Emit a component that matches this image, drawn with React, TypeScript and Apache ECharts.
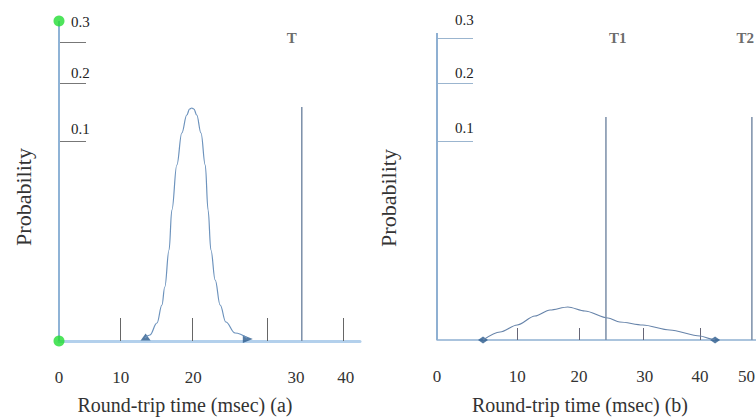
import React, { useEffect, useRef } from "react";
import * as echarts from "echarts";

// ---------- data (axis units) ----------
// Panel (a)
const leftCurve: number[][] = [
  [12.1, 0.003], [12.8, 0.006], [13.8, 0.018], [14.5, 0.036], [14.9, 0.054],
  [15.5, 0.091], [15.9, 0.131], [16.6, 0.176], [17.3, 0.208], [18.0, 0.226],
  [18.4, 0.232], [18.7, 0.233], [19.0, 0.232], [19.4, 0.226], [20.0, 0.208],
  [20.6, 0.176], [21.0, 0.131], [21.4, 0.091], [22.0, 0.061], [22.7, 0.036],
  [23.5, 0.019], [24.8, 0.008], [26.5, 0.003],
];
const leftStart = [12.2, 0.004];
const leftEnd = [26.6, 0.002];
const leftT = 34.2;
const leftTHeight = 0.234;
const leftTLabel = [32.8, 0.303];
const leftAxisTop = 0.32;
const leftXTicks = [8.6, 18.7, 29.4, 40.0];
const leftXLabelPos = [0, 8.7, 18.9, 33.4, 40.4];
const leftXLabels = ["0", "10", "20", "30", "40"];
const leftYTicks = [0.2, 0.258, 0.299];
const leftYLabelPos = [0.212, 0.268, 0.319];

// Panel (b)
const rightCurve: number[][] = [
  [7.0, 0.0], [9.6, 0.008], [12.2, 0.015], [14.9, 0.024], [17.2, 0.03],
  [19.9, 0.033], [22.5, 0.029], [26.0, 0.022], [27.8, 0.018], [31.3, 0.015],
  [35.4, 0.01], [40.0, 0.004], [41.8, 0.001], [42.3, 0.0],
];
const rightStart = [7.0, 0.0];
const rightEnd = [42.3, 0.0];
const rightT1 = 25.7;
const rightT2 = 47.9;
const rightTHeight = 0.223;
const rightT1Label = [27.5, 0.302];
const rightT2Label = [46.9, 0.302];
const rightAxisTop = 0.307;
const rightXTicks = [12.2, 21.6, 31.3, 40.0];
const rightXLabelPos = [0, 12.2, 21.6, 31.6, 40.0, 47.1];
const rightXLabels = ["0", "10", "20", "30", "40", "50"];
const rightYTicks = [0.199, 0.257, 0.302];
const rightYLabelPos = [0.212, 0.267, 0.32];

const yLabels = ["0.1", "0.2", "0.3"];
const yTitle = "Probability";
const xTitleA = "Round-trip time (msec) (a)";
const xTitleB = "Round-trip time (msec) (b)";

const FONT = "'Liberation Serif', 'DejaVu Serif', serif";

function lookup(pos: number[], labels: string[]) {
  return (v: number) => {
    let best = 0;
    let d = Infinity;
    pos.forEach((p, i) => {
      const dd = Math.abs(p - v);
      if (dd < d) {
        d = dd;
        best = i;
      }
    });
    return labels[best];
  };
}

function xAxisCfg(grid: number, max: number, ticks: number[], labPos: number[], labs: string[], tickLen: number, tickColor: string, lineColor: string, lineWidth: number) {
  return {
    type: "value",
    gridIndex: grid,
    min: 0,
    max,
    splitLine: { show: false },
    axisLine: { show: true, lineStyle: { color: lineColor, width: lineWidth } },
    axisTick: {
      show: true,
      inside: true,
      length: tickLen,
      customValues: ticks,
      lineStyle: { color: tickColor, width: 1 },
    },
    axisLabel: {
      show: true,
      customValues: labPos,
      formatter: lookup(labPos, labs),
      margin: 28,
      fontFamily: FONT,
      fontSize: 17,
      color: "#333",
      hideOverlap: false,
    },
  };
}

function yAxisCfg(grid: number, ticks: number[], labPos: number[], tickLen: number, tickColor: string, margin: number) {
  return {
    type: "value",
    gridIndex: grid,
    min: 0,
    max: 0.325,
    splitLine: { show: false },
    axisLine: { show: false },
    axisTick: {
      show: true,
      inside: true,
      length: tickLen,
      customValues: ticks,
      lineStyle: { color: tickColor, width: 1 },
    },
    axisLabel: {
      show: true,
      inside: true,
      customValues: labPos,
      formatter: lookup(labPos, yLabels),
      margin,
      fontFamily: FONT,
      fontSize: 15,
      color: "#222",
    },
  };
}

function tLabel(axis: number, pos: number[], text: string) {
  return {
    type: "scatter",
    xAxisIndex: axis,
    yAxisIndex: axis,
    symbolSize: 1,
    itemStyle: { color: "rgba(0,0,0,0)" },
    data: [pos],
    label: {
      show: true,
      position: "inside",
      formatter: text,
      fontFamily: FONT,
      fontSize: 15,
      fontWeight: "bold",
      color: "#444",
    },
    z: 5,
  };
}

export default function App() {
  const ref = useRef<HTMLDivElement>(null);

  useEffect(() => {
    if (!ref.current) return;
    const chart = echarts.init(ref.current, null, { renderer: "svg" });
    const option: any = {
      animation: false,
      backgroundColor: "#ffffff",
      grid: [
        { left: 59, top: 16, width: 301, height: 325, containLabel: false, outerBoundsMode: "none" },
        { left: 437, top: 15, width: 330, height: 325, containLabel: false, outerBoundsMode: "none" },
      ],
      xAxis: [
        xAxisCfg(0, 42.4, leftXTicks, leftXLabelPos, leftXLabels, 23, "#666", "#b3d0ec", 3),
        xAxisCfg(1, 50.2, rightXTicks, rightXLabelPos, rightXLabels, 12, "#667", "#8fb0d2", 1.5),
      ],
      yAxis: [
        yAxisCfg(0, leftYTicks, leftYLabelPos, 27, "#777", 12),
        yAxisCfg(1, rightYTicks, rightYLabelPos, 36, "#9bb5cf", 18),
      ],
      series: [
        // ---- panel (a)
        {
          type: "line",
          xAxisIndex: 0,
          yAxisIndex: 0,
          data: [[0, 0], [0, leftAxisTop]],
          symbol: "none",
          lineStyle: { color: "#8fb3d6", width: 2 },
        },
        {
          type: "line",
          xAxisIndex: 0,
          yAxisIndex: 0,
          data: leftCurve,
          smooth: 0.4,
          smoothMonotone: "x",
          symbol: "none",
          lineStyle: { color: "#6d93bd", width: 1.2 },
        },
        {
          type: "line",
          xAxisIndex: 0,
          yAxisIndex: 0,
          data: [[leftT, 0], [leftT, leftTHeight]],
          symbol: "none",
          lineStyle: { color: "#7a8ea8", width: 1.5 },
        },
        {
          type: "scatter",
          xAxisIndex: 0,
          yAxisIndex: 0,
          data: [[0, 0], [0, leftAxisTop]],
          symbolSize: 11,
          itemStyle: { color: "#22dd33" },
          z: 6,
        },
        {
          type: "scatter",
          xAxisIndex: 0,
          yAxisIndex: 0,
          data: [leftStart],
          symbol: "triangle",
          symbolSize: [10, 7],
          itemStyle: { color: "#2a5a8c" },
        },
        {
          type: "scatter",
          xAxisIndex: 0,
          yAxisIndex: 0,
          data: [leftEnd],
          symbol: "triangle",
          symbolRotate: -90,
          symbolSize: [8, 10],
          itemStyle: { color: "#2a5a8c" },
        },
        tLabel(0, leftTLabel, "T"),
        // ---- panel (b)
        {
          type: "line",
          xAxisIndex: 1,
          yAxisIndex: 1,
          data: [[0, 0], [0, rightAxisTop]],
          symbol: "none",
          lineStyle: { color: "#8fb0d2", width: 2 },
        },
        {
          type: "line",
          xAxisIndex: 1,
          yAxisIndex: 1,
          data: rightCurve,
          smooth: 0.3,
          smoothMonotone: "x",
          symbol: "none",
          lineStyle: { color: "#6784aa", width: 1.2 },
        },
        {
          type: "line",
          xAxisIndex: 1,
          yAxisIndex: 1,
          data: [[rightT1, 0], [rightT1, rightTHeight]],
          symbol: "none",
          lineStyle: { color: "#7a8ea8", width: 1.5 },
        },
        {
          type: "line",
          xAxisIndex: 1,
          yAxisIndex: 1,
          data: [[rightT2, 0], [rightT2, rightTHeight]],
          symbol: "none",
          lineStyle: { color: "#7a8ea8", width: 1.5 },
        },
        {
          type: "scatter",
          xAxisIndex: 1,
          yAxisIndex: 1,
          data: [rightStart, rightEnd],
          symbol: "diamond",
          symbolSize: [10, 7],
          itemStyle: { color: "#2a5a8c" },
        },
        tLabel(1, rightT1Label, "T1"),
        tLabel(1, rightT2Label, "T2"),
      ],
      graphic: [
        {
          type: "text",
          x: 23,
          y: 197,
          rotation: Math.PI / 2,
          style: {
            text: yTitle,
            fontFamily: FONT,
            fontSize: 22,
            fill: "#333",
            textAlign: "center",
            textVerticalAlign: "middle",
          },
        },
        {
          type: "text",
          x: 388,
          y: 198,
          rotation: Math.PI / 2,
          style: {
            text: yTitle,
            fontFamily: FONT,
            fontSize: 22,
            fill: "#333",
            textAlign: "center",
            textVerticalAlign: "middle",
          },
        },
        {
          type: "text",
          x: 185,
          y: 405,
          style: {
            text: xTitleA,
            fontFamily: FONT,
            fontSize: 20,
            fill: "#333",
            textAlign: "center",
            textVerticalAlign: "middle",
          },
        },
        {
          type: "text",
          x: 580,
          y: 405,
          style: {
            text: xTitleB,
            fontFamily: FONT,
            fontSize: 20,
            fill: "#333",
            textAlign: "center",
            textVerticalAlign: "middle",
          },
        },
      ],
    };
    chart.setOption(option);
    return () => chart.dispose();
  }, []);

  return (
    <div
      ref={ref}
      style={{ position: "fixed", left: 0, top: 0, width: 756, height: 419, background: "#fff" }}
    />
  );
}
